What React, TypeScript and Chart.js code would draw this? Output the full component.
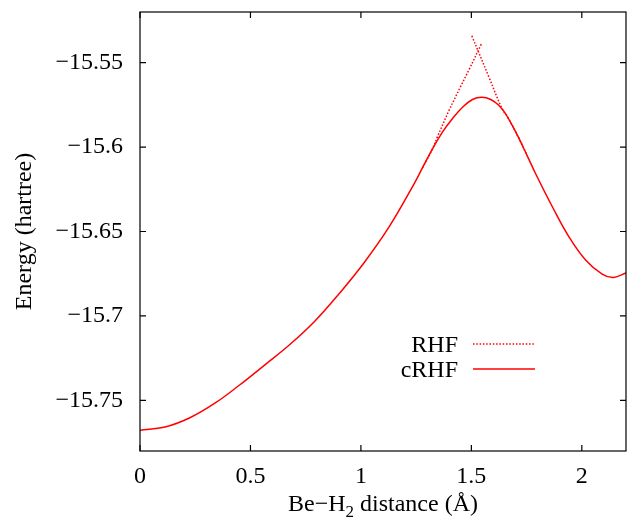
import React, { useEffect, useRef } from "react";
import { Chart, registerables } from "chart.js";

Chart.register(...registerables);

const FONT = "'Liberation Serif', 'DejaVu Serif', serif";

// tick labels
const xTicks = [0, 0.5, 1, 1.5, 2];
const yTicks = [-15.75, -15.7, -15.65, -15.6, -15.55];

// cRHF curve
const crhfX = [
  0, 0.113, 0.226, 0.339, 0.451, 0.564, 0.677, 0.79, 0.903, 1.016, 1.129,
  1.242, 1.279, 1.324, 1.369, 1.414, 1.46, 1.505, 1.547, 1.588, 1.625, 1.655,
  1.685, 1.716, 1.753, 1.791, 1.866, 1.941, 2.017, 2.092, 2.144, 2.2,
];
const crhfE = [
  -15.7677, -15.7658, -15.7603, -15.7517, -15.7409, -15.7291, -15.7171,
  -15.7033, -15.6866, -15.6682, -15.647, -15.6215, -15.6122, -15.6011,
  -15.5911, -15.5832, -15.5764, -15.5718, -15.5705, -15.5718, -15.5754,
  -15.5803, -15.5872, -15.595, -15.6052, -15.6158, -15.6352, -15.653,
  -15.6669, -15.6752, -15.6772, -15.6745,
];

// RHF, branch coming from short distances
const rhfLowX = [1.279, 1.324, 1.347, 1.4, 1.452, 1.49, 1.545];
const rhfLowE = [
  -15.6122, -15.6011, -15.5937, -15.578, -15.564, -15.554, -15.539,
];

// RHF, branch coming from long distances
const rhfHighX = [1.502, 1.58, 1.64, 1.663, 1.716, 1.753];
const rhfHighE = [-15.5341, -15.5587, -15.5776, -15.582, -15.595, -15.6052];

const RED = "#ff0000";

const toPoints = (xs: number[], ys: number[]) =>
  xs.map((x, i) => ({ x, y: ys[i] }));

const fmt = (v: number) => String(v).replace("-", "\u2212");

// gnuplot style frame, inward ticks, axis titles and key
const framePlugin = {
  id: "gnuplotFrame",
  afterDraw(chart: any) {
    const { ctx, chartArea: a, scales } = chart;
    const tick = 6;
    ctx.save();
    ctx.strokeStyle = "#000";
    ctx.lineWidth = 1.2;
    ctx.strokeRect(a.left, a.top, a.right - a.left, a.bottom - a.top);
    ctx.beginPath();
    xTicks.forEach((v) => {
      const px = scales.x.getPixelForValue(v);
      ctx.moveTo(px, a.bottom);
      ctx.lineTo(px, a.bottom - tick);
      ctx.moveTo(px, a.top);
      ctx.lineTo(px, a.top + tick);
    });
    yTicks.forEach((v) => {
      const py = scales.y.getPixelForValue(v);
      ctx.moveTo(a.left, py);
      ctx.lineTo(a.left + tick, py);
      ctx.moveTo(a.right, py);
      ctx.lineTo(a.right - tick, py);
    });
    ctx.stroke();

    ctx.fillStyle = "#000";
    ctx.font = `24px ${FONT}`;

    // y title
    ctx.save();
    ctx.translate(25, (a.top + a.bottom) / 2);
    ctx.rotate(-Math.PI / 2);
    ctx.textAlign = "center";
    ctx.textBaseline = "middle";
    ctx.fillText("Energy (hartree)", 0, 0);
    ctx.restore();

    // x title with subscript
    const p1 = "Be\u2212H";
    const p2 = "2";
    const p3 = " distance (\u00c5)";
    ctx.textBaseline = "alphabetic";
    ctx.textAlign = "left";
    const w1 = ctx.measureText(p1).width;
    const w3 = ctx.measureText(p3).width;
    ctx.font = `17px ${FONT}`;
    const w2 = ctx.measureText(p2).width;
    const cx = (a.left + a.right) / 2;
    const base = 511;
    let tx = cx - (w1 + w2 + w3) / 2;
    ctx.font = `24px ${FONT}`;
    ctx.fillText(p1, tx, base);
    tx += w1;
    ctx.font = `17px ${FONT}`;
    ctx.fillText(p2, tx, base + 6);
    tx += w2;
    ctx.font = `24px ${FONT}`;
    ctx.fillText(p3, tx, base);

    // key
    const keys = [
      { label: "RHF", y: 344, dash: [1.5, 1.8] },
      { label: "cRHF", y: 369, dash: [] as number[] },
    ];
    ctx.textAlign = "right";
    keys.forEach((k) => {
      ctx.fillStyle = "#000";
      ctx.fillText(k.label, 458, k.y + 8);
      ctx.strokeStyle = RED;
      ctx.lineWidth = 1.5;
      ctx.setLineDash(k.dash);
      ctx.beginPath();
      ctx.moveTo(473, k.y);
      ctx.lineTo(535, k.y);
      ctx.stroke();
    });
    ctx.restore();
  },
};

const lineStyle = {
  borderColor: RED,
  borderWidth: 1.5,
  pointRadius: 0,
  fill: false,
  tension: 0.4,
};

const EnergyChart: React.FC = () => {
  const chartRef = useRef<HTMLCanvasElement | null>(null);

  useEffect(() => {
    document.body.style.margin = "0";
    Chart.defaults.font.family = FONT;
    let chartInstance: Chart | null = null;
    if (chartRef.current) {
      const ctx = chartRef.current.getContext("2d");
      if (ctx) {
        chartInstance = new Chart(ctx, {
          type: "line",
          data: {
            datasets: [
              {
                ...lineStyle,
                label: "cRHF",
                data: toPoints(crhfX, crhfE),
                order: 0,
              },
              {
                ...lineStyle,
                label: "RHF",
                data: toPoints(rhfLowX, rhfLowE),
                borderDash: [1.5, 1.8],
                order: 1,
              },
              {
                ...lineStyle,
                label: "RHF (long range)",
                data: toPoints(rhfHighX, rhfHighE),
                borderDash: [1.5, 1.8],
                order: 1,
              },
            ],
          },
          options: {
            animation: false,
            responsive: false,
            layout: { padding: { top: 12, right: 1, left: 0, bottom: 0 } },
            plugins: {
              legend: { display: false },
              tooltip: { enabled: false },
            },
            scales: {
              x: {
                type: "linear",
                min: 0,
                max: 2.2,
                grid: { display: false, drawTicks: false },
                border: { display: false },
                afterBuildTicks: (axis: any) => {
                  axis.ticks = xTicks.map((v) => ({ value: v }));
                },
                afterFit: (axis: any) => {
                  axis.height = 72;
                  axis.paddingLeft = 0;
                  axis.paddingRight = 0;
                },
                ticks: {
                  color: "#000",
                  font: { family: FONT, size: 24 },
                  padding: 11,
                  maxRotation: 0,
                  autoSkip: false,
                  callback: (v: any) => fmt(Number(v)),
                },
              },
              y: {
                type: "linear",
                min: -15.78,
                max: -15.52,
                grid: { display: false, drawTicks: false },
                border: { display: false },
                afterBuildTicks: (axis: any) => {
                  axis.ticks = yTicks.map((v) => ({ value: v }));
                },
                afterFit: (axis: any) => {
                  axis.width = 140;
                  axis.paddingTop = 0;
                  axis.paddingBottom = 0;
                },
                ticks: {
                  color: "#000",
                  font: { family: FONT, size: 24 },
                  padding: 17,
                  autoSkip: false,
                  callback: (v: any) => fmt(Number(v)),
                },
              },
            },
          },
          plugins: [framePlugin],
        });
      }
    }
    return () => {
      if (chartInstance) {
        chartInstance.destroy();
      }
    };
  }, []);

  return <canvas ref={chartRef} width={627} height={523} />;
};

export default function App() {
  return <EnergyChart />;
}
